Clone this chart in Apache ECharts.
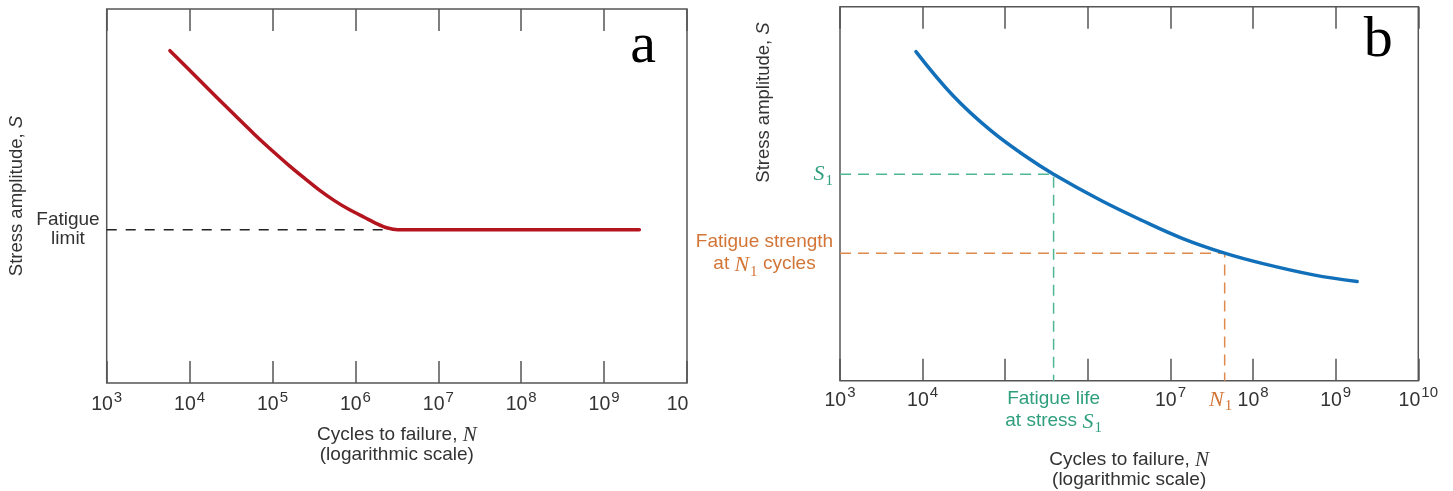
<!DOCTYPE html>
<html>
<head>
<meta charset="utf-8">
<script src="https://cdn.jsdelivr.net/npm/echarts@6/dist/echarts.min.js"></script>
<style>
html,body{margin:0;padding:0;background:#fff;}
#chart{width:1453px;height:491px;}
</style>
</head>
<body>
<div id="chart"></div>
<script>
// ---------- data ----------
// Panel a: S-N curve with fatigue limit (stress in arbitrary units 0..100)
const leftCyclesN = [5790, 13300, 30600, 61200, 106700, 161500, 244900, 371500, 563600, 853100, 1294000, 1858000, 2449000, 3236000, 2661000000];
const leftStressS = [88.85, 80.9, 72.9, 66.4, 61.5, 58.0, 54.7, 51.5, 48.7, 46.3, 44.25, 42.5, 41.45, 41.0, 41.0];
const fatigueLimit = 41.0;
const fatigueLimitDashEndN = 3236000;

// Panel b: S-N curve without fatigue limit
const rightCyclesN = [8300, 23400, 66000, 182000, 385000, 1410000, 4470000, 14100000, 45300000, 132000000, 537000000, 1820000000];
const rightStressS = [88.0, 76.2, 67.0, 59.8, 55.2, 48.3, 42.9, 38.0, 34.1, 31.3, 28.3, 26.5];
const stressS1 = 55.2;
const lifeAtS1 = 385000;
const cyclesN1 = 45300000;
const strengthAtN1 = 34.1;

// axis
const axisMinN = 1e3;
const axisMaxN = 1e10;
// superscripts for decade tick labels 10^3 .. 10^10 ('' = plain "10", cut off; null = no label)
const leftTickSup = ['3', '4', '5', '6', '7', '8', '9', ''];
const rightTickSup = ['3', '4', null, null, '7', '8', '9', '10'];

// ---------- styles ----------
const SANS = '"Liberation Sans", Arial, Helvetica, sans-serif';
const SERIF = '"Liberation Serif", "Times New Roman", serif';
const TXT = '#333333';
const BOX = '#555555';
const RED = '#b3141e';
const BLUE = '#1170b9';
const GREEN = '#4fb696';
const GREEN_TXT = '#2f9e7d';
const ORANGE = '#de8a4c';
const ORANGE_TXT = '#d27536';

const chart = echarts.init(document.getElementById('chart'), null, {renderer: 'canvas'});

function tickFormatter(sups) {
  return function (v) {
    const idx = Math.round(Math.log10(v)) - 3;
    const sup = sups[idx];
    if (sup === null || sup === undefined) return '';
    if (sup === '') return '{bp|10}';
    return '{b|10}{s|' + sup + '}';
  };
}
const tickRich = {
  b: {fontFamily: SANS, fontSize: 19.5, lineHeight: 19, color: TXT, padding: [5, 0, 0, 0], verticalAlign: 'top'},
  bp: {fontFamily: SANS, fontSize: 19.5, lineHeight: 19, color: TXT, padding: [5, 19, 0, 0], verticalAlign: 'top'},
  s: {fontFamily: SANS, fontSize: 15, lineHeight: 15, color: TXT, verticalAlign: 'top', padding: [0, 0, 0, 1]}
};

function bottomAxis(gridIndex, sups, margin) {
  return {
    type: 'log', logBase: 10, gridIndex: gridIndex, position: 'bottom',
    min: axisMinN, max: axisMaxN,
    axisLine: {show: false},
    axisTick: {show: true, inside: true, length: 22, lineStyle: {color: BOX, width: 1.5}},
    splitLine: {show: false},
    minorTick: {show: false},
    axisLabel: {show: true, margin: margin, formatter: tickFormatter(sups), rich: tickRich, showMinLabel: true, showMaxLabel: true}
  };
}
function topAxis(gridIndex) {
  return {
    type: 'log', logBase: 10, gridIndex: gridIndex, position: 'top',
    min: axisMinN, max: axisMaxN,
    axisLine: {show: false},
    axisTick: {show: true, inside: true, length: 22, lineStyle: {color: BOX, width: 1.5}},
    splitLine: {show: false},
    axisLabel: {show: false}
  };
}
function hiddenY(gridIndex) {
  return {type: 'value', gridIndex: gridIndex, min: 0, max: 100, show: false, splitLine: {show: false}};
}

const zip = (xs, ys) => xs.map((x, i) => [x, ys[i]]);

const option = {
  animation: false,
  backgroundColor: '#ffffff',
  grid: [
    {left: 106.7, right: 766, top: 9, bottom: 108, show: true, borderColor: BOX, borderWidth: 1.5, containLabel: false, outerBoundsMode: 'none'},
    {left: 840, right: 34.7, top: 6.7, bottom: 110.3, show: true, borderColor: BOX, borderWidth: 1.5, containLabel: false, outerBoundsMode: 'none'}
  ],
  xAxis: [
    bottomAxis(0, leftTickSup, 7),
    topAxis(0),
    bottomAxis(1, rightTickSup, 5),
    topAxis(1)
  ],
  yAxis: [hiddenY(0), hiddenY(1)],
  series: [
    {
      type: 'line', xAxisIndex: 0, yAxisIndex: 0, symbol: 'none', silent: true, z: 2,
      data: [[axisMinN, fatigueLimit], [fatigueLimitDashEndN, fatigueLimit]],
      lineStyle: {color: '#222222', width: 1.5, type: [10, 9]}
    },
    {
      type: 'line', xAxisIndex: 0, yAxisIndex: 0, symbol: 'none', silent: true, z: 3,
      smooth: 0.3,
      data: zip(leftCyclesN, leftStressS),
      lineStyle: {color: RED, width: 3.5, cap: 'round'}
    },
    {
      type: 'line', xAxisIndex: 2, yAxisIndex: 1, symbol: 'none', silent: true, z: 2,
      data: [[axisMinN, stressS1], [lifeAtS1, stressS1], [lifeAtS1, 0]],
      lineStyle: {color: GREEN, width: 1.5, type: [11, 7]}
    },
    {
      type: 'line', xAxisIndex: 2, yAxisIndex: 1, symbol: 'none', silent: true, z: 2,
      data: [[axisMinN, strengthAtN1], [cyclesN1, strengthAtN1], [cyclesN1, 0]],
      lineStyle: {color: ORANGE, width: 1.5, type: [11, 7]}
    },
    {
      type: 'line', xAxisIndex: 2, yAxisIndex: 1, symbol: 'none', silent: true, z: 3,
      smooth: 0.4,
      data: zip(rightCyclesN, rightStressS),
      lineStyle: {color: BLUE, width: 3.5, cap: 'round'}
    }
  ]
};
chart.setOption(option);

// ---------- annotations positioned through the axes ----------
const pL = (n, s) => chart.convertToPixel({gridIndex: 0}, [n, s]);
const pR = (n, s) => chart.convertToPixel({gridIndex: 1}, [n, s]);

const gL0 = pL(axisMinN, 100), gL1 = pL(axisMaxN, 0);
const gR0 = pR(axisMinN, 100), gR1 = pR(axisMaxN, 0);
const limitPx = pL(axisMinN, fatigueLimit);
const s1Px = pR(lifeAtS1, stressS1);
const n1Px = pR(cyclesN1, strengthAtN1);

function richText(c) {
  return {
    t: {fontFamily: SANS, fontSize: 19, lineHeight: 20, fill: c, verticalAlign: 'top'},
    i: {fontFamily: SERIF, fontStyle: 'italic', fontSize: 21, lineHeight: 20, fill: c, verticalAlign: 'top'}
  };
}
function colored(c) {
  return {
    t: {fontFamily: SANS, fontSize: 19, lineHeight: 22, fill: c, verticalAlign: 'top'},
    i: {fontFamily: SERIF, fontStyle: 'italic', fontSize: 22, lineHeight: 22, fill: c, verticalAlign: 'top'},
    sub: {fontFamily: SERIF, fontSize: 15, lineHeight: 15, fill: c, verticalAlign: 'top', padding: [10, 0, 0, 1]}
  };
}
const yNameRich = {
  t: {fontFamily: SANS, fontSize: 18.5, fill: TXT},
  s: {fontFamily: SANS, fontStyle: 'italic', fontSize: 18.5, fill: TXT}
};

const graphics = [
  // panel letters
  {type: 'text', x: gL1[0] - 44, y: gL0[1] + 38, style: {text: 'a', font: '58px ' + SERIF, fill: '#000', align: 'center', verticalAlign: 'middle'}},
  {type: 'text', x: gR1[0] - 40, y: gR0[1] + 34, style: {text: 'b', font: '58px ' + SERIF, fill: '#000', align: 'center', verticalAlign: 'middle'}},
  // y-axis names
  {type: 'text', x: 17, y: (gL0[1] + gL1[1]) / 2, rotation: Math.PI / 2,
    style: {text: '{t|Stress amplitude, }{s|S}', align: 'center', verticalAlign: 'middle', rich: yNameRich}},
  {type: 'text', x: 764, y: 102.5, rotation: Math.PI / 2,
    style: {text: '{t|Stress amplitude, }{s|S}', align: 'center', verticalAlign: 'middle', rich: yNameRich}},
  // x-axis names
  {type: 'text', x: (gL0[0] + gL1[0]) / 2, y: 425,
    style: {text: '{t|Cycles to failure, }{i|N}\n{t|(logarithmic scale)}', align: 'center', verticalAlign: 'top', rich: richText(TXT)}},
  {type: 'text', x: (gR0[0] + gR1[0]) / 2, y: 450,
    style: {text: '{t|Cycles to failure, }{i|N}\n{t|(logarithmic scale)}', align: 'center', verticalAlign: 'top', rich: richText(TXT)}},
  // fatigue limit label
  {type: 'text', x: 68, y: limitPx[1],
    style: {text: 'Fatigue\nlimit', font: '19px ' + SANS, lineHeight: 19, fill: TXT, align: 'center', verticalAlign: 'middle'}},
  // S1 label
  {type: 'text', x: gR0[0] - 7, y: s1Px[1] - 11,
    style: {text: '{i|S}{sub|1}', align: 'right', verticalAlign: 'top', rich: colored(GREEN_TXT)}},
  // fatigue strength label
  {type: 'text', x: 764.5, y: n1Px[1] - 21,
    style: {text: '{t|Fatigue strength}\n{t|at }{i|N}{sub|1}{t| cycles}', align: 'center', verticalAlign: 'top', rich: colored(ORANGE_TXT)}},
  // fatigue life label
  {type: 'text', x: s1Px[0], y: 389,
    style: {text: '{t|Fatigue life}\n{t|at stress }{i|S}{sub|1}', align: 'center', verticalAlign: 'top', rich: colored(GREEN_TXT)}},
  // N1 label
  {type: 'text', x: n1Px[0] - 4, y: 389,
    style: {text: '{i|N}{sub|1}', align: 'center', verticalAlign: 'top', rich: colored(ORANGE_TXT)}}
];
chart.setOption({graphic: {elements: graphics}});
</script>
</body>
</html>
